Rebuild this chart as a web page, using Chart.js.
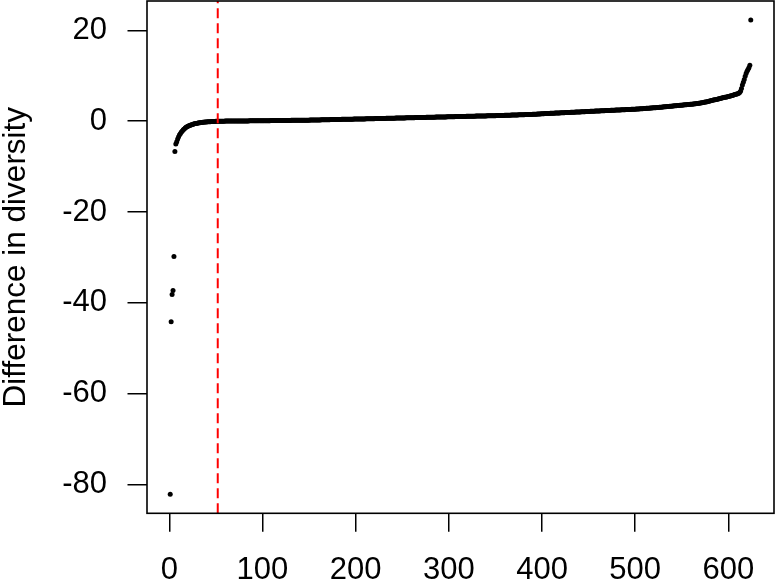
<!DOCTYPE html>
<html>
<head>
<meta charset="utf-8">
<script src="https://cdn.jsdelivr.net/npm/chart.js@4.4.1/dist/chart.umd.min.js"></script>
<style>
  html, body { margin: 0; padding: 0; background: #ffffff; }
  #wrap { width: 776px; height: 582px; }
</style>
</head>
<body>
<div id="wrap"><canvas id="c" width="776" height="582"></canvas></div>
<script>
// ---- data (sorted differences in diversity) ----
const diffNegative = [
  -82.2, -44.2, -38.2, -37.3, -29.8,
  -6.7, -5.0, -4.5, -3.9, -3.4, -3.0, -2.7, -2.4, -2.15, -1.9, -1.7, -1.5, -1.35, -1.22, -1.1,
  -1.0, -0.92, -0.84, -0.77, -0.7, -0.64, -0.58, -0.53, -0.48, -0.44, -0.4, -0.36, -0.33, -0.3, -0.27,
  -0.24, -0.22, -0.2, -0.18, -0.16, -0.14, -0.12, -0.11, -0.1, -0.08, -0.07, -0.06, -0.05, -0.04, -0.03, -0.02, -0.01
];
const diffFlat = [
  0.00,0.00,0.00,0.01,0.01,0.01,0.01,0.02,0.02,0.02,
  0.02,0.03,0.03,0.03,0.03,0.04,0.04,0.04,0.04,0.05,
  0.05,0.05,0.05,0.05,0.06,0.06,0.06,0.06,0.07,0.07,
  0.07,0.07,0.07,0.08,0.08,0.08,0.08,0.08,0.09,0.09,
  0.09,0.09,0.09,0.10,0.10,0.10,0.10,0.10,
  0.11,0.11,0.11,0.11,0.12,0.12,0.12,0.12,0.13,0.13,
  0.13,0.13,0.14,0.14,0.14,0.14,0.15,0.15,0.15,0.15,
  0.16,0.16,0.16,0.17,0.17,0.17,0.17,0.18,0.18,0.18,
  0.19,0.19,0.19,0.19,0.20,0.20,0.20,0.20,0.21,0.21,
  0.21,0.21,0.22,0.22,0.22,0.22,0.23,0.23,0.23,0.23,
  0.24,0.24,0.25,0.25,0.26,0.26,0.27,0.27,0.28,0.28,
  0.29,0.29,0.30,0.30,0.31,0.31,0.32,0.32,0.33,0.33,
  0.34,0.34,0.35,0.35,0.36,0.36,0.37,0.37,0.38,0.38,
  0.39,0.39,0.40,0.40,0.41,0.41,0.42,0.42,0.43,0.43,
  0.43,0.44,0.44,0.44,0.45,0.45,0.45,0.46,0.46,0.46
];
const diffRising = [
  0.47,0.47,0.48,0.48,0.49,0.49,0.50,0.50,0.51,0.51,
  0.52,0.52,0.53,0.53,0.54,0.54,0.55,0.55,0.56,0.56,
  0.57,0.57,0.58,0.58,0.59,0.59,0.60,0.60,0.61,0.61,
  0.62,0.62,0.63,0.63,0.64,0.64,0.65,0.65,0.66,0.66,
  0.67,0.67,0.68,0.68,0.69,0.69,0.70,0.70,0.71,0.72,
  0.72,0.73,0.73,0.74,0.74,0.75,0.75,0.76,0.76,0.77,
  0.77,0.78,0.78,0.79,0.79,0.80,0.80,0.81,0.81,0.82,
  0.82,0.83,0.83,0.84,0.84,0.85,0.85,0.86,0.86,0.87,
  0.87,0.88,0.88,0.89,0.89,0.90,0.90,0.91,0.91,0.92,
  0.92,0.93,0.93,0.94,0.94,0.95,0.95,0.96,0.96,0.97,
  0.98,0.98,0.99,0.99,1.00,1.00,1.01,1.01,1.02,1.02,
  1.03,1.03,1.04,1.04,1.05,1.05,1.06,1.06,1.07,1.07,
  1.08,1.08,1.09,1.09,1.10,1.10,1.11,1.11,1.12,1.12,
  1.13,1.13,1.14,1.14,1.15,1.15,1.16,1.16,1.17,1.17,
  1.18,1.18,1.19,1.19,1.20,1.20,1.21,1.21,1.22,1.22,
  1.23,1.24,1.24,1.25,1.26,1.26,1.27,1.28,1.28,1.29,
  1.30,1.31,1.31,1.32,1.33,1.33,1.34,1.35,1.35,1.36,
  1.37,1.38,1.38,1.39,1.40,1.40,1.41,1.42,1.43,1.43,
  1.44,1.45,1.46,1.46,1.47,1.48,1.49,1.49,1.50,1.51,
  1.52,1.53,1.54,1.55,1.56,1.57,1.58,1.60,1.62,1.64,
  1.65,1.66,1.67,1.68,1.69,1.70,1.71,1.72,1.73,1.74,
  1.75,1.76,1.77,1.78,1.79,1.80,1.81,1.82,1.83,1.84,
  1.85,1.86,1.87,1.88,1.89,1.90,1.91,1.92,1.93,1.94,
  1.95,1.96,1.97,1.98,1.99,2.00,2.01,2.02,2.03,2.04,
  2.05,2.06,2.07,2.08,2.09,2.10,2.11,2.12,2.13,2.15,
  2.16,2.17,2.18,2.19,2.20,2.21,2.22,2.23,2.24,2.25,
  2.26,2.27,2.28,2.29,2.30,2.31,2.32,2.33,2.34,2.35,
  2.36,2.37,2.38,2.39,2.40,2.41,2.42,2.43,2.44,2.45,
  2.46,2.47,2.48,2.49,2.50,2.51,2.52,2.53,2.54,2.55,
  2.56,2.57,2.58,2.59,2.60,2.61,2.62,2.63,2.64,2.65,
  2.67,2.68,2.70,2.71,2.73,2.74,2.76,2.77,2.79,2.80,
  2.82,2.83,2.85,2.86,2.88,2.89,2.91,2.92,2.94,2.95,
  2.97,2.98,3.00,3.02,3.04,3.06,3.08,3.10,3.12,3.14,
  3.16,3.18,3.20,3.22,3.24,3.26,3.28,3.30,3.32,3.34,
  3.36,3.38,3.40,3.42,3.44,3.46,3.48,3.50,3.52,3.54,
  3.56,3.58,3.60,3.62,3.64,3.66,3.68,3.70,3.72,3.74,
  3.76,3.78,3.80,3.83,3.86,3.89,3.92,3.95,3.98,4.01,
  4.05,4.09,4.13,4.17,4.21,4.25,4.30,4.35,4.40,4.45,
  4.50,4.55,4.60,4.65,4.70,4.75,4.80,4.85,4.90,4.95,
  5.00,5.05,5.10,5.15,5.20,5.25,5.30,5.35,5.40,5.45
];
const diffTail = [
  5.50,5.56,5.62,5.68,5.74,5.80,5.86,5.92,5.98,6.05,
  6.15,6.30,6.60,7.20,8.00,8.60,9.20,9.90,10.50,11.00,
  11.40,11.80,12.30,22.30
];
const cutoffIndex = 52;              // red dashed line position
const xTickValues = [0, 100, 200, 300, 400, 500, 600];
const yTickValues = [-80, -60, -40, -20, 0, 20];
const yAxisTitle = 'Difference in diversity';

// ---- build chart ----
const diffs = diffNegative.concat(diffFlat, diffRising, diffTail);
const points = diffs.map((v, i) => ({ x: i + 1, y: v }));
const n = diffs.length;
const yMinData = Math.min(...diffs), yMaxData = Math.max(...diffs);
const xPad = (n - 1) * 0.04, yPad = (yMaxData - yMinData) * 0.04;
const xMin = 1 - xPad, xMax = n + xPad;
const yMin = yMinData - yPad, yMax = yMaxData + yPad;

const FONT = "'Liberation Sans', Arial, Helvetica, sans-serif";

const framePlugin = {
  id: 'frame',
  afterDatasetsDraw(chart) {
    const a = chart.chartArea, ctx = chart.ctx;
    ctx.save();
    ctx.strokeStyle = '#000';
    ctx.lineWidth = 1.6;
    ctx.strokeRect(a.left, a.top, a.right - a.left, a.bottom - a.top);
    ctx.restore();
  }
};

new Chart(document.getElementById('c'), {
  type: 'scatter',
  data: {
    datasets: [
      {
        data: points,
        pointRadius: 2.5,
        pointBackgroundColor: '#000',
        pointBorderWidth: 0,
        showLine: false,
        order: 1
      },
      {
        type: 'line',
        data: [{ x: cutoffIndex, y: yMin }, { x: cutoffIndex, y: yMax }],
        borderColor: '#ff0000',
        borderWidth: 2,
        borderDash: [10, 5],
        pointRadius: 0,
        fill: false,
        order: 0
      }
    ]
  },
  plugins: [framePlugin],
  options: {
    responsive: false,
    animation: false,
    events: [],
    devicePixelRatio: 1,
    layout: { autoPadding: false, padding: { top: 1, right: 2, left: 0, bottom: 0 } },
    plugins: { legend: { display: false }, tooltip: { enabled: false } },
    scales: {
      x: {
        type: 'linear',
        min: xMin, max: xMax,
        afterBuildTicks(scale) { scale.ticks = xTickValues.map(v => ({ value: v })); },
        afterFit(scale) { scale.height = 582 - 513.3; scale.paddingLeft = 0; scale.paddingRight = 0; },
        border: { display: false },
        grid: { display: true, drawOnChartArea: false, drawTicks: true, tickLength: 18.5, color: '#000', lineWidth: 1.5 },
        ticks: { color: '#000', padding: 20, maxRotation: 0, autoSkip: false,
                 font: { family: FONT, size: 31 } }
      },
      y: {
        type: 'linear',
        min: yMin, max: yMax,
        afterBuildTicks(scale) { scale.ticks = yTickValues.map(v => ({ value: v })); },
        afterFit(scale) { scale.width = 147; scale.paddingTop = 0; scale.paddingBottom = 0; },
        border: { display: false },
        grid: { display: true, drawOnChartArea: false, drawTicks: true, tickLength: 19.5, color: '#000', lineWidth: 1.5 },
        ticks: { color: '#000', padding: 20.5, autoSkip: false,
                 font: { family: FONT, size: 31 } },
        title: { display: true, text: yAxisTitle, color: '#000', padding: { top: 1, bottom: 0 },
                 font: { family: FONT, size: 31.5, lineHeight: 1 } }
      }
    }
  }
});
</script>
</body>
</html>
